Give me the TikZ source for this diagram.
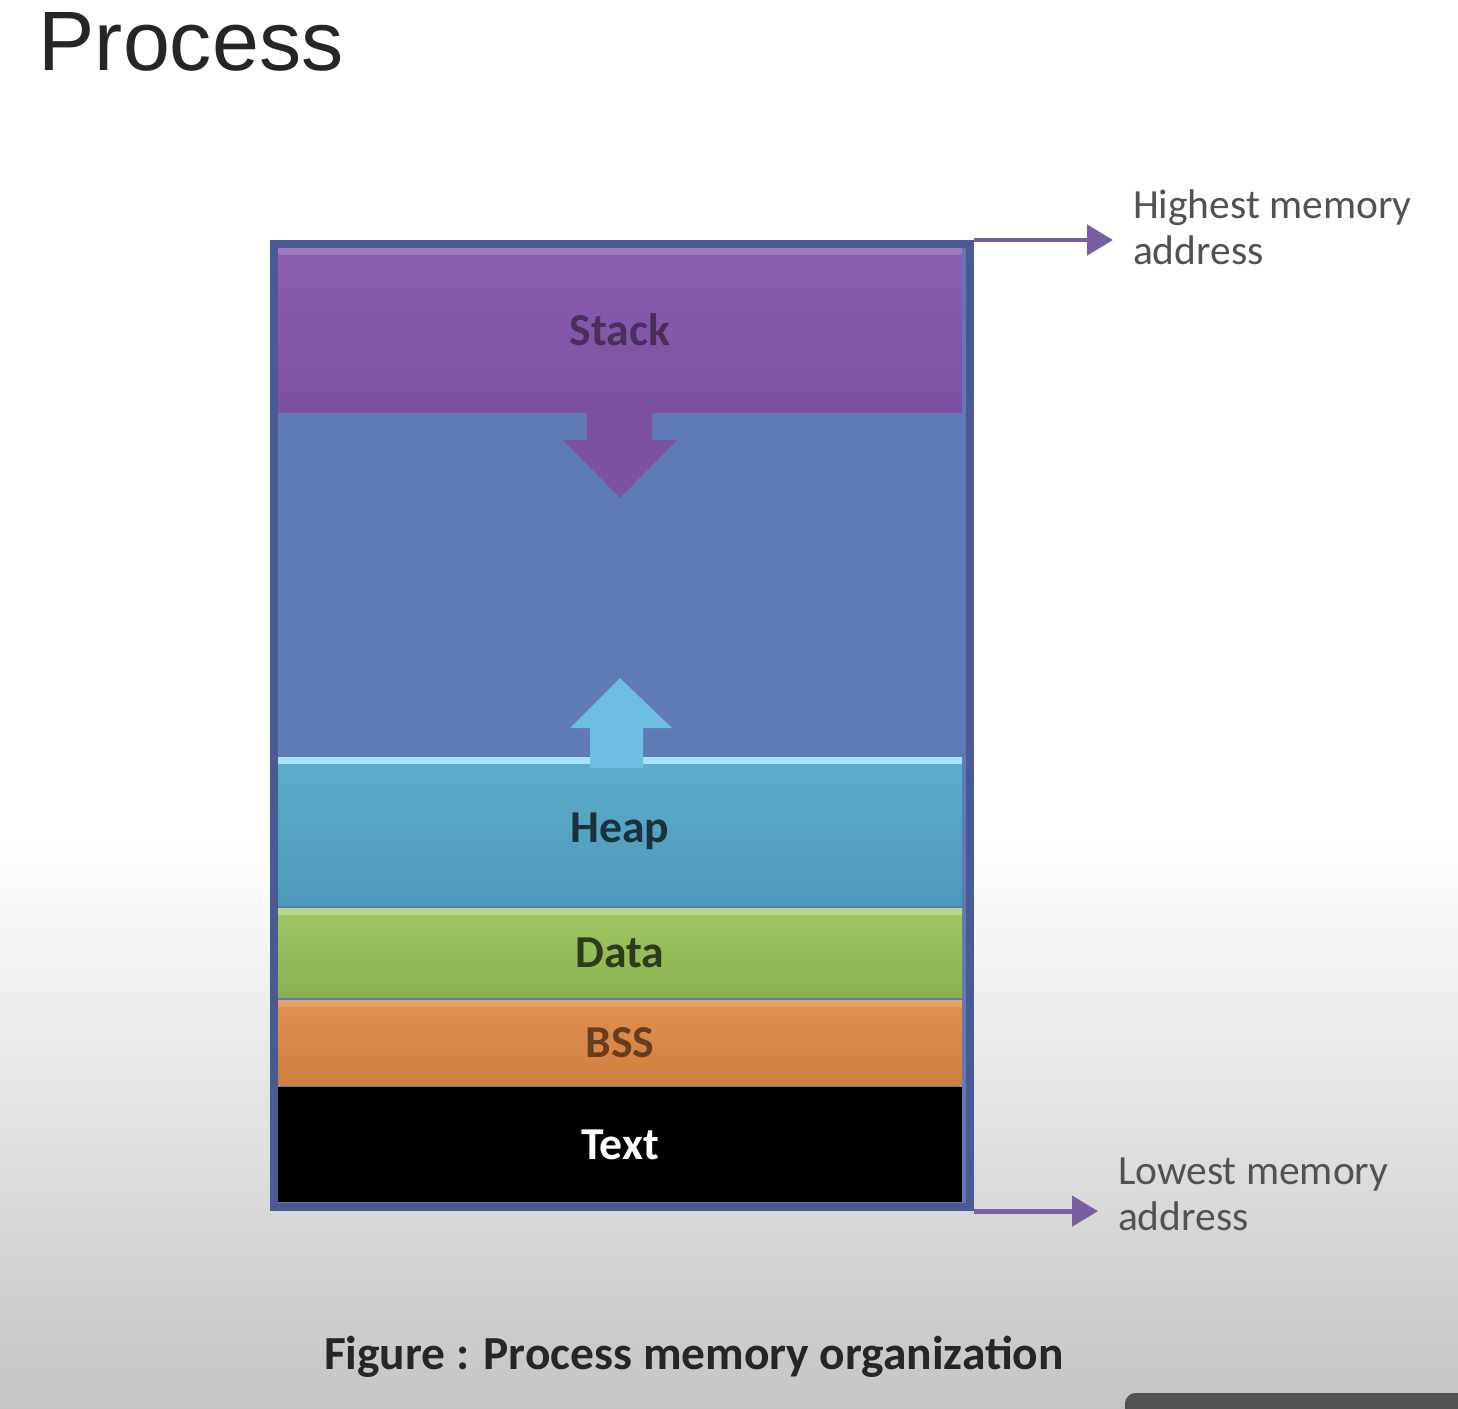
\documentclass[tikz,border=0pt]{standalone}
\usepackage{fontspec}
\setmainfont{Carlito}
\newfontfamily\titulo{Liberation Sans}
\usetikzlibrary{positioning,arrows.meta}
\definecolor{pila}{HTML}{8456AA}
\definecolor{libre}{HTML}{5F7AB6}
\definecolor{marco}{HTML}{4A5B94}
\definecolor{monton}{HTML}{54A8C8}
\definecolor{datos}{HTML}{9BC45A}
\definecolor{bss}{HTML}{E08A46}
\definecolor{flecha}{HTML}{7B5EA0}
\definecolor{subir}{HTML}{6EBEE1}

\begin{document}
\begin{tikzpicture}[>={Triangle[length=2.6mm,width=3mm]},
    seg/.style={minimum width=6.84cm, inner sep=0pt, outer sep=0pt,
                font=\fontsize{13}{15}\selectfont\bfseries},
    glint/.style={path picture={\fill[#1] (path picture bounding box.north west)
                  rectangle ([yshift=-2pt]path picture bounding box.north east);}},
    addr/.style={align=left, anchor=west, inner sep=0pt, outer xsep=0.2cm,
                 text=black!68, font=\fontsize{11.8}{13}\selectfont},
    lnk/.style={->, draw=flecha, line width=1.4pt}]
  % slide background
  \fill[white] (0,0) rectangle (14.58,-14.08);
  \shade[top color=white, bottom color=black!23] (0,-8.4) rectangle (14.58,-14.08);
  \useasboundingbox (0,0) rectangle (14.58,-14.08);
  \node[anchor=base west, inner sep=0pt, text=black!85,
        font=\titulo\fontsize{24}{28}\selectfont] (title) at (0.38,-0.70) {Process};
  % memory layout
  \node[draw=marco, line width=2.3pt, fill=libre, minimum width=6.96cm,
        minimum height=9.63cm, anchor=north west, inner sep=0pt] (mem) at (2.70,-2.40) {};
  \node[seg, minimum height=1.64cm, anchor=north, top color=pila!95!white,
        bottom color=pila!94!black, glint=pila!78!white, text=pila!55!black] (stack) at (6.20,-2.48) {Stack};
  \node[seg, minimum height=1.48cm, anchor=north, top color=monton!95!white,
        bottom color=monton!92!black, glint={cyan!35!white}, text=monton!30!black] (heap) at (6.20,-7.57) {Heap};
  \node[seg, minimum height=0.89cm, below=0.03cm of heap, top color=datos!95!white,
        bottom color=datos!90!black, glint=datos!70!white, text=datos!30!black] (data) {Data};
  \node[seg, minimum height=0.85cm, below=0.03cm of data, top color=bss!95!white,
        bottom color=bss!92!black, glint=bss!80!white, text=bss!45!black] (bss) {BSS};
  \node[seg, minimum height=1.15cm, below=0.02cm of bss, fill=black, text=white] (txt) {Text};
  % growth arrows
  \fill[pila!95!black] (5.87,-4.10) -- (6.52,-4.10) -- (6.52,-4.40) -- (6.77,-4.40)
    -- (6.20,-4.98) -- (5.63,-4.40) -- (5.87,-4.40) -- cycle;
  \fill[subir] (5.90,-7.68) -- (5.90,-7.28) -- (5.70,-7.28) -- (6.20,-6.78)
    -- (6.72,-7.28) -- (6.43,-7.28) -- (6.43,-7.68) -- cycle;
  % address labels
  \node[addr] (hi) at (11.13,-2.27) {Highest memory\\address};
  \node[addr] (lo) at (10.98,-11.94) {Lowest memory\\address};
  \draw[lnk] (mem.north east) -- (mem.north east -| hi.west);
  \draw[lnk] (mem.south east) -- (mem.south east -| lo.west);
  \node[font=\fontsize{13.5}{16}\selectfont\bfseries, text=black!85] (cap) at (6.94,-13.57)
    {Figure : Process memory organization};
  \fill[black!68, rounded corners=3pt] (11.25,-13.93) rectangle (14.90,-14.40);
\end{tikzpicture}
\end{document}
